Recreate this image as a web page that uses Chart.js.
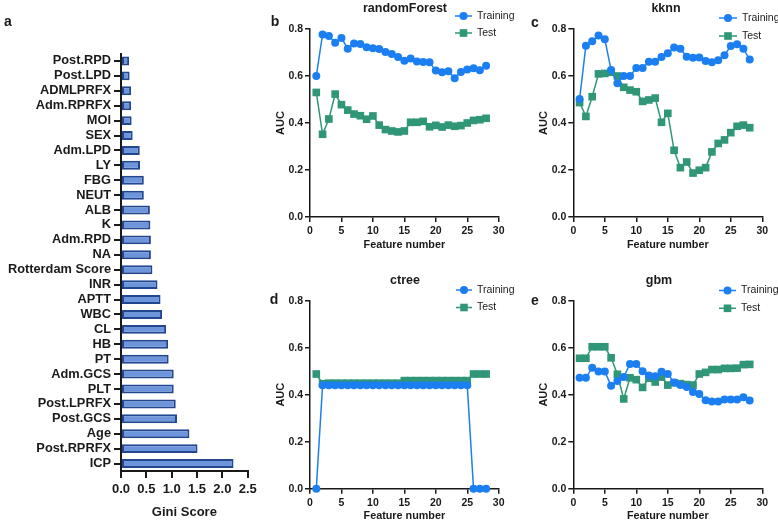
<!DOCTYPE html>
<html>
<head>
<meta charset="utf-8">
<script src="https://cdn.jsdelivr.net/npm/chart.js@4/dist/chart.umd.min.js"></script>
<style>
  html, body { margin:0; padding:0; background:#fff; }
  #wrap { position:relative; width:778px; height:523px; overflow:hidden; background:#fff; }
  canvas { position:absolute; }
</style>
</head>
<body>
<div id="wrap">
  <canvas id="ca" width="270" height="523" style="left:0;top:0;width:270px;height:523px"></canvas>
  <canvas id="cb" width="260" height="260" style="left:270px;top:0;width:260px;height:260px"></canvas>
  <canvas id="cc" width="258" height="260" style="left:520px;top:0;width:258px;height:260px"></canvas>
  <canvas id="cd" width="260" height="263" style="left:270px;top:260px;width:260px;height:263px"></canvas>
  <canvas id="ce" width="258" height="263" style="left:520px;top:260px;width:258px;height:263px"></canvas>
</div>
<script>
// ---------- DATA ----------
const giniLabels = ['Post.RPD','Post.LPD','ADMLPRFX','Adm.RPRFX','MOI','SEX','Adm.LPD','LY','FBG','NEUT','ALB','K','Adm.RPD','NA','Rotterdam Score','INR','APTT','WBC','CL','HB','PT','Adm.GCS','PLT','Post.LPRFX','Post.GCS','Age','Post.RPRFX','ICP'];
const giniScores = [0.16,0.17,0.20,0.20,0.21,0.23,0.37,0.375,0.45,0.45,0.57,0.58,0.59,0.59,0.62,0.72,0.78,0.81,0.89,0.93,0.94,1.04,1.04,1.08,1.105,1.35,1.51,2.22];
const giniTicks = [0.0,0.5,1.0,1.5,2.0,2.5];

const featureNumbers = [1,2,3,4,5,6,7,8,9,10,11,12,13,14,15,16,17,18,19,20,21,22,23,24,25,26,27,28];
const featureTicks = [0,5,10,15,20,25,30];
const aucTicks = [0.0,0.2,0.4,0.6,0.8];

const rfTrain = [0.600,0.777,0.770,0.742,0.762,0.716,0.738,0.736,0.722,0.718,0.715,0.702,0.694,0.681,0.665,0.674,0.662,0.660,0.658,0.623,0.616,0.620,0.590,0.617,0.628,0.633,0.624,0.644];
const rfTest  = [0.530,0.352,0.417,0.523,0.478,0.455,0.438,0.431,0.416,0.430,0.391,0.372,0.366,0.362,0.366,0.403,0.403,0.407,0.384,0.390,0.383,0.391,0.386,0.389,0.400,0.411,0.414,0.420];

const kkTrain = [0.502,0.729,0.748,0.772,0.756,0.626,0.569,0.600,0.600,0.634,0.634,0.661,0.661,0.681,0.697,0.721,0.716,0.682,0.678,0.679,0.664,0.658,0.667,0.688,0.728,0.735,0.716,0.670];
const kkTest  = [0.487,0.428,0.512,0.609,0.611,0.616,0.600,0.552,0.540,0.533,0.492,0.498,0.506,0.403,0.441,0.284,0.210,0.234,0.187,0.199,0.210,0.277,0.313,0.328,0.359,0.386,0.391,0.380];

const ctTrain = [0.000,0.440,0.440,0.440,0.440,0.440,0.440,0.440,0.440,0.440,0.440,0.440,0.440,0.440,0.440,0.440,0.440,0.440,0.440,0.440,0.440,0.440,0.440,0.440,0.440,0.000,0.000,0.000];
const ctTest  = [0.488,0.447,0.449,0.449,0.449,0.449,0.449,0.449,0.449,0.449,0.449,0.449,0.449,0.449,0.460,0.460,0.460,0.460,0.460,0.460,0.460,0.460,0.460,0.460,0.460,0.488,0.488,0.488];

const gbTrain = [0.472,0.472,0.515,0.499,0.499,0.438,0.458,0.475,0.531,0.531,0.500,0.482,0.479,0.498,0.488,0.452,0.441,0.433,0.411,0.403,0.376,0.371,0.371,0.380,0.380,0.380,0.389,0.375];
const gbTest  = [0.555,0.555,0.604,0.604,0.604,0.557,0.487,0.382,0.472,0.464,0.431,0.470,0.454,0.475,0.441,0.451,0.447,0.443,0.441,0.488,0.495,0.507,0.507,0.512,0.512,0.513,0.528,0.529];

// ---------- STYLE ----------
const FONT = "'Liberation Sans', Arial, Helvetica, sans-serif";
const BLUE = '#1b7ff2';
const GREEN = '#2f9678';
const INK = '#1a1a1a';

function decoPlugin(d) {
  return {
    id: 'deco',
    afterDraw(chart) {
      const ctx = chart.ctx;
      ctx.save();
      ctx.fillStyle = INK;
      ctx.textBaseline = 'middle';
      ctx.font = "bold 14px " + FONT;
      ctx.textAlign = 'center';
      ctx.fillText(d.letter, d.letterX, d.letterY);
      if (d.title) {
        ctx.font = "bold 12.5px " + FONT;
        ctx.fillText(d.title, d.titleX, d.titleY);
      }
      if (d.legend) {
        const L = d.legend;
        chart.data.datasets.forEach((ds, i) => {
          const y = L.y[i];
          ctx.strokeStyle = ds.borderColor;
          ctx.lineWidth = 1.5;
          ctx.beginPath();
          ctx.moveTo(L.x1, y); ctx.lineTo(L.x2, y); ctx.stroke();
          ctx.fillStyle = ds.backgroundColor;
          const cx = (L.x1 + L.x2) / 2;
          if (ds.pointStyle === 'rect') {
            ctx.fillRect(cx - 3.8, y - 3.8, 7.6, 7.6);
          } else {
            ctx.beginPath(); ctx.arc(cx, y, 4, 0, Math.PI * 2); ctx.fill();
          }
          ctx.fillStyle = INK;
          ctx.font = "10.5px " + FONT;
          ctx.textAlign = 'left';
          ctx.fillText(ds.label, L.tx, y);
        });
      }
      ctx.restore();
    }
  };
}

// ---------- PANEL a ----------
new Chart(document.getElementById('ca'), {
  type: 'bar',
  data: {
    labels: giniLabels,
    datasets: [{
      data: giniScores,
      backgroundColor: '#6c95db',
      borderColor: '#23478f',
      borderWidth: 2,
      borderSkipped: false,
      barPercentage: 0.6,
      categoryPercentage: 1
    }]
  },
  options: {
    indexAxis: 'y',
    responsive: false, animation: false, devicePixelRatio: 1,
    layout: { padding: { left: 0, right: 22.3, top: 53.5, bottom: 0 } },
    plugins: { legend: { display: false }, tooltip: { enabled: false } },
    scales: {
      x: {
        type: 'linear', min: 0, max: 2.5,
        afterBuildTicks: s => { s.ticks = giniTicks.map(v => ({ value: v })); },
        ticks: { callback: v => Number(v).toFixed(1), font: { family: FONT, size: 13, weight: 'bold' }, color: INK, padding: 4, maxRotation: 0 },
        grid: { drawOnChartArea: false, drawTicks: true, tickLength: 7, color: INK, lineWidth: 2 },
        border: { color: INK, width: 2 },
        title: { display: true, text: 'Gini Score', font: { family: FONT, size: 13, weight: 'bold' }, color: INK, padding: { top: 0, bottom: 3 } },
        afterFit: s => { s.height = 52; }
      },
      y: {
        type: 'category',
        ticks: { font: { family: FONT, size: 12.8, weight: 'bold' }, color: INK, padding: 3, autoSkip: false },
        grid: { offset: false, drawOnChartArea: false, drawTicks: true, tickLength: 7, color: INK, lineWidth: 2 },
        border: { color: INK, width: 2 },
        afterFit: s => { s.width = 121; }
      }
    }
  },
  plugins: [decoPlugin({ letter: 'a', letterX: 8, letterY: 22.5 })]
});

// ---------- LINE PANELS ----------
function pts(values) { return values.map((v, i) => ({ x: featureNumbers[i], y: v })); }

function linePanel(id, train, test, p) {
  return new Chart(document.getElementById(id), {
    type: 'line',
    data: {
      datasets: [
        { label: 'Training', data: pts(train), borderColor: BLUE, backgroundColor: BLUE, pointStyle: 'circle', pointRadius: 4, pointBorderWidth: 0, pointBorderColor: BLUE, pointBackgroundColor: BLUE, borderWidth: 1.5, tension: 0, clip: false },
        { label: 'Test', data: pts(test), borderColor: GREEN, backgroundColor: GREEN, pointStyle: 'rect', pointRadius: 5.4, pointBorderWidth: 0, pointBorderColor: GREEN, pointBackgroundColor: GREEN, borderWidth: 1.5, tension: 0, clip: false }
      ]
    },
    options: {
      responsive: false, animation: false, devicePixelRatio: 1,
      layout: { padding: { left: p.padL, right: p.padR, top: p.padT, bottom: 0 } },
      plugins: { legend: { display: false }, tooltip: { enabled: false } },
      scales: {
        x: {
          type: 'linear', min: 0, max: 30,
          afterBuildTicks: s => { s.ticks = featureTicks.map(v => ({ value: v })); },
          ticks: { font: { family: FONT, size: 10.5, weight: 'bold' }, color: INK, padding: 3, maxRotation: 0 },
          grid: { drawOnChartArea: false, drawTicks: true, tickLength: 5, color: INK, lineWidth: 1.5 },
          border: { color: INK, width: 1.5 },
          title: { display: true, text: 'Feature number', font: { family: FONT, size: 10.8, weight: 'bold' }, color: INK, padding: { top: 0, bottom: p.xTitlePad } },
          afterFit: s => { s.height = p.xH; }
        },
        y: {
          type: 'linear', min: 0, max: 0.8,
          afterBuildTicks: s => { s.ticks = aucTicks.map(v => ({ value: v })); },
          ticks: { callback: v => Number(v).toFixed(1), font: { family: FONT, size: 10.5, weight: 'bold' }, color: INK, padding: 2 },
          grid: { drawOnChartArea: false, drawTicks: true, tickLength: 5, color: INK, lineWidth: 1.5 },
          border: { color: INK, width: 1.5 },
          title: { display: true, text: 'AUC', font: { family: FONT, size: 11, weight: 'bold' }, color: INK, padding: { top: 4, bottom: 0 } },
          afterFit: s => { s.width = 40; }
        }
      }
    },
    plugins: [decoPlugin(p.deco)]
  });
}

linePanel('cb', rfTrain, rfTest, {
  padL: 0, padR: 31.3, padT: 29, xH: 43, xTitlePad: 8,
  deco: { letter: 'b', letterX: 5, letterY: 22, title: 'randomForest', titleX: 135, titleY: 9,
          legend: { x1: 185, x2: 202, tx: 207, y: [16, 33] } }
});
linePanel('cc', kkTrain, kkTest, {
  padL: 13.3, padR: 15.7, padT: 29, xH: 43, xTitlePad: 8,
  deco: { letter: 'c', letterX: 15, letterY: 23.5, title: 'kknn', titleX: 146, titleY: 9,
          legend: { x1: 199, x2: 217, tx: 222, y: [18, 36] } }
});
linePanel('cd', ctTrain, ctTest, {
  padL: 0, padR: 31.3, padT: 40.7, xH: 34.3, xTitlePad: 0,
  deco: { letter: 'd', letterX: 4, letterY: 40.5, title: 'ctree', titleX: 135, titleY: 21,
          legend: { x1: 186, x2: 202, tx: 207, y: [30, 47.5] } }
});
linePanel('ce', gbTrain, gbTest, {
  padL: 13.3, padR: 15.7, padT: 40.7, xH: 34.3, xTitlePad: 0,
  deco: { letter: 'e', letterX: 15, letterY: 41, title: 'gbm', titleX: 139, titleY: 21,
          legend: { x1: 199, x2: 216, tx: 221, y: [30.5, 48.3] } }
});
</script>
</body>
</html>
